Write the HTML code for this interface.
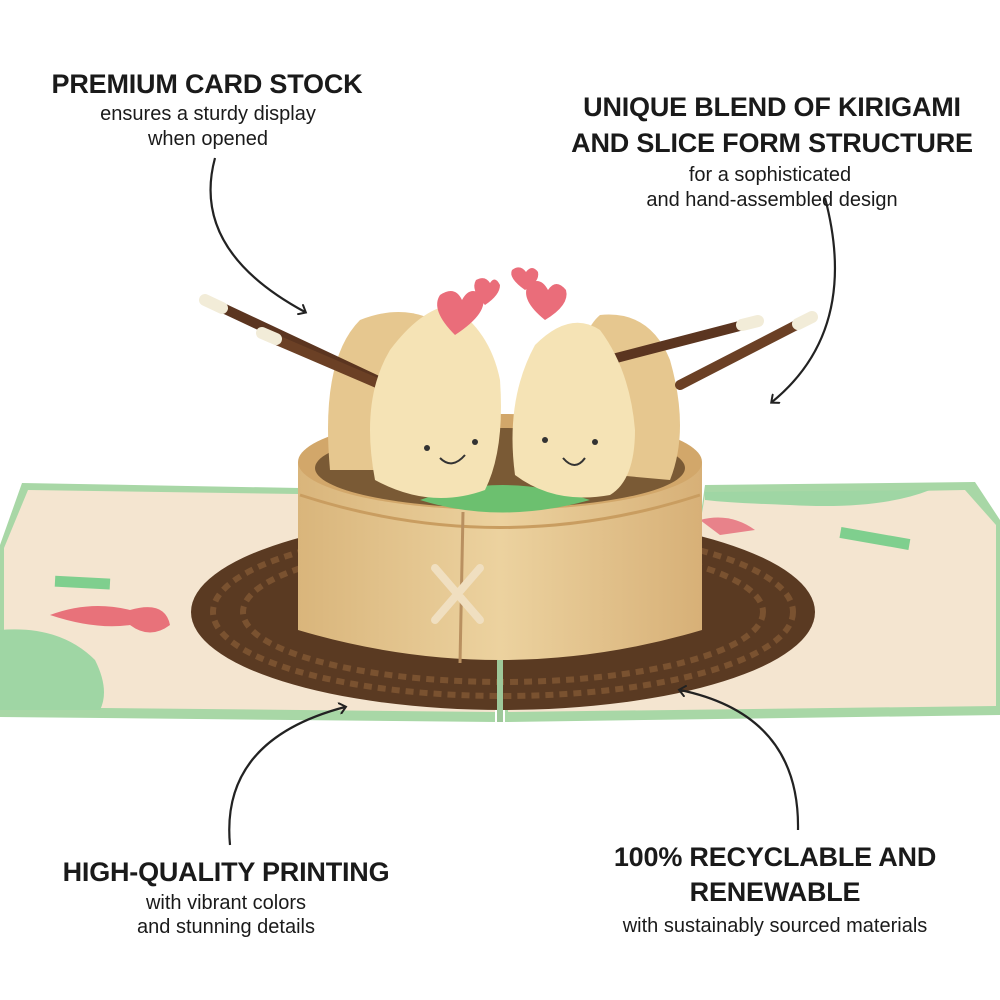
<!DOCTYPE html>
<html><head><meta charset="utf-8"><style>
html,body{margin:0;padding:0;background:#fff;}
.wrap{position:relative;width:1000px;height:1000px;overflow:hidden;font-family:"Liberation Sans",sans-serif;color:#1a1a1a;}
.t{position:absolute;text-align:center;white-space:nowrap;transform:translateX(-50%);}
.h{font-weight:bold;font-size:27px;letter-spacing:-0.2px;}
.s{font-size:20px;}
</style></head><body><div class="wrap">
<svg width="1000" height="1000" style="position:absolute;left:0;top:0">
<defs>
<marker id="ah" markerWidth="12" markerHeight="12" refX="6" refY="6" orient="auto" markerUnits="userSpaceOnUse">
<path d="M0,0 L7,6 L0,12" fill="none" stroke="#222" stroke-width="2"/></marker>
<linearGradient id="bam" x1="0" x2="1"><stop offset="0" stop-color="#d9b57b"/><stop offset="0.5" stop-color="#ecd29f"/><stop offset="1" stop-color="#d7b077"/></linearGradient>
</defs>
<polygon points="22,483 300,488 300,520 495,540 495,722 0,717 0,545" fill="#a8d7a6"/>
<polygon points="28,490 298,494 495,546 495,712 4,707 4,548" fill="#f4e5d0"/>
<polygon points="705,485 975,482 1000,520 1000,715 505,722 505,540 700,520" fill="#a8d7a6"/>
<polygon points="705,495 965,490 996,525 996,706 508,712 508,546 700,525" fill="#f4e5d0"/>
<path d="M0,630 Q60,625 95,660 Q110,690 100,710 L0,710 Z" fill="#9fd6a4"/>
<path d="M705,492 L930,490 Q880,510 790,505 Q730,503 705,500 Z" fill="#9fd6a4"/>
<rect x="55" y="577" width="55" height="11" fill="#7fcf8e" transform="rotate(3 80 582)"/>
<rect x="840" y="533" width="70" height="11" fill="#7fcf8e" transform="rotate(10 875 538)"/>
<path d="M50,615 Q90,600 130,610 Q165,600 170,625 Q150,640 130,625 Q95,630 50,615Z" fill="#e8727a"/>
<path d="M700,520 Q730,512 755,530 L720,535 Z" fill="#e8828a"/>
<ellipse cx="503" cy="612" rx="312" ry="98" fill="#5a3a22"/>
<ellipse cx="503" cy="612" rx="290" ry="84" fill="none" stroke="#7a5230" stroke-width="6" stroke-dasharray="8 6"/>
<ellipse cx="503" cy="612" rx="260" ry="70" fill="none" stroke="#7a5230" stroke-width="6" stroke-dasharray="8 6"/>
<line x1="500" y1="660" x2="500" y2="722" stroke="#9ec89a" stroke-width="6"/>
<path d="M298,462 L298,630 Q500,690 702,630 L702,462 Z" fill="url(#bam)"/>
<ellipse cx="500" cy="462" rx="202" ry="48" fill="#d2a76a"/>
<ellipse cx="500" cy="468" rx="185" ry="40" fill="#7a5a35"/>
<path d="M300,495 Q500,560 700,495" fill="none" stroke="#c99d60" stroke-width="3"/>
<line x1="463" y1="512" x2="460" y2="663" stroke="#b99060" stroke-width="3"/>
<path d="M435,568 L480,620 M480,568 L435,620" stroke="#f0dfc0" stroke-width="8" stroke-linecap="round"/>
<path d="M420,500 Q500,470 590,500 Q500,525 420,500Z" fill="#6cc06f"/>
<path d="M330,470 Q320,360 360,320 Q410,300 450,330 L440,470Z" fill="#e6c78f"/>
<path d="M560,470 Q570,340 600,315 Q650,310 670,360 Q690,430 670,480Z" fill="#e6c78f"/>
<line x1="210" y1="302" x2="440" y2="410" stroke="#5b3520" stroke-width="10" stroke-linecap="round"/>
<line x1="265" y1="335" x2="440" y2="410" stroke="#6b4025" stroke-width="10" stroke-linecap="round"/>
<line x1="570" y1="370" x2="755" y2="322" stroke="#5b3520" stroke-width="10" stroke-linecap="round"/>
<line x1="680" y1="385" x2="810" y2="318" stroke="#6b4025" stroke-width="10" stroke-linecap="round"/>
<line x1="205" y1="300" x2="222" y2="308" stroke="#f2ecd8" stroke-width="12" stroke-linecap="round"/>
<line x1="262" y1="333" x2="276" y2="339" stroke="#f2ecd8" stroke-width="12" stroke-linecap="round"/>
<line x1="742" y1="325" x2="758" y2="321" stroke="#f2ecd8" stroke-width="12" stroke-linecap="round"/>
<line x1="798" y1="324" x2="812" y2="317" stroke="#f2ecd8" stroke-width="12" stroke-linecap="round"/>
<path d="M375,480 Q360,400 390,350 Q420,310 450,305 Q490,330 500,380 Q505,450 485,490 Q430,510 375,480Z" fill="#f5e3b5"/>
<path d="M515,475 Q505,400 535,345 Q570,310 600,330 Q630,370 635,430 Q635,480 610,495 Q555,505 515,475Z" fill="#f5e3b5"/>
<path d="M440,458 Q452,470 465,455" fill="none" stroke="#333" stroke-width="2"/>
<path d="M563,458 Q575,472 585,458" fill="none" stroke="#333" stroke-width="2"/>
<circle cx="427" cy="448" r="3" fill="#333"/><circle cx="475" cy="442" r="3" fill="#333"/>
<circle cx="545" cy="440" r="3" fill="#333"/><circle cx="595" cy="442" r="3" fill="#333"/>
<path d="M455,335 Q430,310 440,295 Q455,285 462,300 Q470,285 482,295 Q490,312 455,335Z" fill="#ea6d7a"/>
<path d="M485,305 Q470,290 476,280 Q485,275 490,283 Q495,275 500,285 Q500,295 485,305Z" fill="#ea6d7a"/>
<path d="M545,320 Q520,300 528,285 Q540,275 548,290 Q556,278 566,290 Q570,305 545,320Z" fill="#ea6d7a"/>
<path d="M525,290 Q508,278 512,270 Q520,264 526,272 Q532,264 538,272 Q540,282 525,290Z" fill="#ea6d7a"/>
<g fill="none" stroke="#222" stroke-width="2.2">
<path d="M215,158 Q190,250 305,312" marker-end="url(#ah)"/>
<path d="M825,198 Q860,330 772,402" marker-end="url(#ah)"/>
<path d="M230,845 Q220,740 345,707" marker-end="url(#ah)"/>
<path d="M798,830 Q800,715 680,690" marker-end="url(#ah)"/>
</g>
</svg>
<div class="t h" style="left:207px;top:69px">PREMIUM CARD STOCK</div>
<div class="t s" style="left:208px;top:103px">ensures a sturdy display</div>
<div class="t s" style="left:208px;top:128px">when opened</div>
<div class="t h" style="left:772px;top:92px">UNIQUE BLEND OF KIRIGAMI</div>
<div class="t h" style="left:772px;top:128px">AND SLICE FORM STRUCTURE</div>
<div class="t s" style="left:770px;top:164px">for a sophisticated</div>
<div class="t s" style="left:772px;top:189px">and hand-assembled design</div>
<div class="t h" style="left:226px;top:857px">HIGH-QUALITY PRINTING</div>
<div class="t s" style="left:226px;top:892px">with vibrant colors</div>
<div class="t s" style="left:226px;top:916px">and stunning details</div>
<div class="t h" style="left:775px;top:842px">100% RECYCLABLE AND</div>
<div class="t h" style="left:775px;top:877px">RENEWABLE</div>
<div class="t s" style="left:775px;top:915px">with sustainably sourced materials</div>
</div></body></html>
